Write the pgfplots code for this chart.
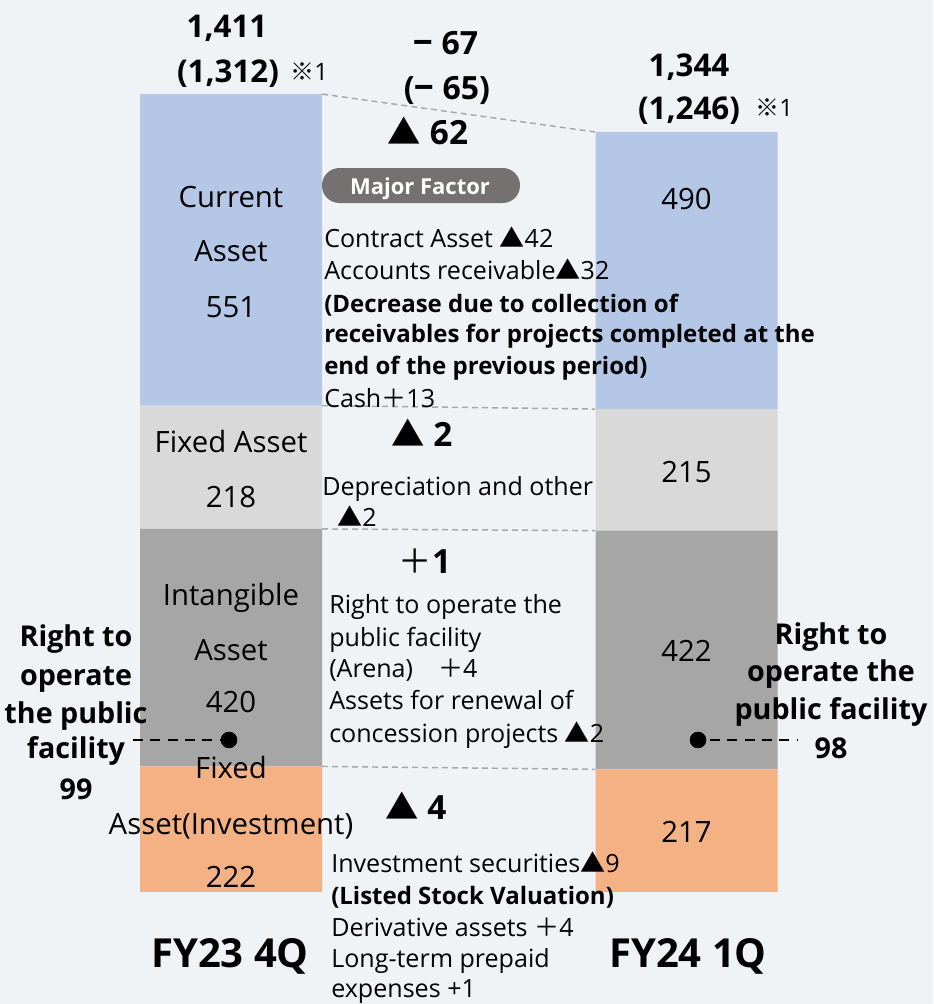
\documentclass[border=0pt]{standalone}
\usepackage{pgfplots}
\pgfplotsset{compat=1.18}
\usepackage{fontspec}
\setmainfont{Open Sans}
\newfontfamily\jp{Noto Sans CJK JP}
\definecolor{bg}{HTML}{EFF3F5}
\definecolor{cur}{HTML}{B4C7E7}
\definecolor{fix}{HTML}{D9D9D9}
\definecolor{intg}{HTML}{A6A6A6}
\definecolor{inv}{HTML}{F4B183}
\definecolor{pill}{HTML}{767171}
\definecolor{conn}{HTML}{A8A8A8}
\newcommand\Y[1]{{(892-#1)/0.5655}}
\newcommand\fs[1]{\fontsize{#1}{#1}\selectfont}
\newcommand\tri{{\jp ▲}}
\newcommand\pl{{\jp ＋}}
\pgfplotsset{base/.style={width=699.75pt, height=753pt, scale only axis,
  xmin=0, xmax=933, ymin=-198.06, ymax=1577.37, hide axis, clip=false,
  at={(0,0)}, anchor=south west}}
\begin{document}
\begin{tikzpicture}
\path[use as bounding box, fill=bg] (0,0) rectangle (699.75pt,753pt);
\begin{axis}[base, ybar stacked, bar width=182, bar shift=0pt]
\addplot[fill=inv, draw=none] coordinates {(231,222) (686.5,217)};
\addplot[fill=intg, draw=none] coordinates {(231,420) (686.5,422)};
\addplot[fill=fix, draw=none] coordinates {(231,218) (686.5,215)};
\addplot[fill=cur, draw=none] coordinates {(231,551) (686.5,490)};
\end{axis}
\begin{axis}[base]
% connectors
\addplot[conn, line width=1.1pt, dash pattern=on 4.5pt off 3pt] coordinates {(322,1411) (595,1344)};
\addplot[conn, line width=1.1pt, dash pattern=on 4.5pt off 3pt] coordinates {(322,860) (595,854)};
\addplot[conn, line width=1.1pt, dash pattern=on 4.5pt off 3pt] coordinates {(322,642) (595,639)};
\addplot[conn, line width=1.1pt, dash pattern=on 4.5pt off 3pt] coordinates {(322,222) (595,217)};
% right to operate markers
\addplot[black, line width=1.6pt, dash pattern=on 7.5pt off 5.5pt] coordinates {(133,268.8) (221,268.8)};
\addplot[black, line width=1.6pt, dash pattern=on 7.5pt off 5.5pt] coordinates {(710,268.8) (797,268.8)};
\addplot[black, only marks, mark=*, mark size=6pt] coordinates {(229,268.8) (698,268.8)};
% pill
\fill[pill, rounded corners=13pt] (axis cs:322,\Y{168}) rectangle (axis cs:520,\Y{203});
\node[anchor=base, inner sep=0pt, text=white, font=\fs{16.5}\bfseries] at (axis cs:420,\Y{195}) {Major Factor};
\begin{scope}[every node/.style={inner sep=0pt}]
% totals
\node[anchor=base, font=\fs{23.5}\bfseries] at (axis cs:227,\Y{38}) {1,411};
\node[anchor=base, font=\fs{23.5}\bfseries] at (axis cs:228,\Y{83}) {(1,312)};
\node[anchor=base west, font=\fs{18}] at (axis cs:290,\Y{81}) {{\jp ※}1};
\node[anchor=base, font=\fs{23.5}\bfseries] at (axis cs:689,\Y{77}) {1,344};
\node[anchor=base, font=\fs{23.5}\bfseries] at (axis cs:689,\Y{120}) {(1,246)};
\node[anchor=base west, font=\fs{18}] at (axis cs:755,\Y{117}) {{\jp ※}1};
% deltas
\node[anchor=base, font=\fs{24}\bfseries] at (axis cs:446,\Y{55}) {{\jp\bfseries −} 67};
\node[anchor=base, font=\fs{24}\bfseries] at (axis cs:447,\Y{100}) {({\jp\bfseries −} 65)};
\node[anchor=base, font=\fs{25}\bfseries] at (axis cs:428,\Y{145}) {\tri{} 62};
\node[anchor=base, font=\fs{25}\bfseries] at (axis cs:422,\Y{447}) {\tri{} 2};
\node[anchor=base, font=\fs{25}\bfseries] at (axis cs:425,\Y{574}) {{\jp\mdseries ＋}1};
\node[anchor=base, font=\fs{25}\bfseries] at (axis cs:416,\Y{820}) {\tri{} 4};
% bar labels
\begin{scope}[every node/.append style={anchor=base, font=\fs{22}}]
\node at (axis cs:231,\Y{208}) {Current};
\node at (axis cs:231,\Y{262}) {Asset};
\node at (axis cs:231,\Y{318}) {551};
\node at (axis cs:231,\Y{453}) {Fixed Asset};
\node at (axis cs:231,\Y{508}) {218};
\node at (axis cs:231,\Y{605}) {Intangible};
\node at (axis cs:231,\Y{660}) {Asset};
\node at (axis cs:231,\Y{713}) {420};
\node at (axis cs:231,\Y{778}) {Fixed};
\node at (axis cs:231,\Y{835}) {Asset(Investment)};
\node at (axis cs:231,\Y{888}) {222};
\node at (axis cs:686.5,\Y{210}) {490};
\node at (axis cs:686.5,\Y{483}) {215};
\node at (axis cs:686.5,\Y{662}) {422};
\node at (axis cs:686.5,\Y{843}) {217};
\end{scope}
% body text
\begin{scope}[every node/.append style={anchor=base west, font=\fs{18.8}}]
\node at (axis cs:324,\Y{248}) {Contract Asset \tri42};
\node at (axis cs:324,\Y{280}) {Accounts receivable\tri32};
\node[font=\fs{18}\bfseries] at (axis cs:324,\Y{312}) {(Decrease due to collection of};
\node[font=\fs{18}\bfseries] at (axis cs:324,\Y{343}) {receivables for projects completed at the};
\node[font=\fs{18}\bfseries] at (axis cs:324,\Y{375}) {end of the previous period)};
\node at (axis cs:324,\Y{408}) {Cash\pl13};
\node at (axis cs:322,\Y{496}) {Depreciation and other};
\node at (axis cs:337,\Y{527}) {\tri2};
\node at (axis cs:329,\Y{614}) {Right to operate the};
\node at (axis cs:329,\Y{647}) {public facility};
\node at (axis cs:329,\Y{678}) {(Arena)\quad\pl4};
\node at (axis cs:329,\Y{710}) {Assets for renewal of};
\node at (axis cs:329,\Y{742}) {concession projects \tri2};
\node at (axis cs:331,\Y{873}) {Investment securities\tri9};
\node[font=\fs{18}\bfseries] at (axis cs:331,\Y{905}) {(Listed Stock Valuation)};
\node at (axis cs:331,\Y{937}) {Derivative assets \pl4};
\node at (axis cs:331,\Y{968}) {Long-term prepaid};
\node at (axis cs:331,\Y{998}) {expenses +1};
\end{scope}
% side labels
\begin{scope}[every node/.append style={anchor=base, font=\fs{21.5}\bfseries}]
\node at (axis cs:76,\Y{647}) {Right to};
\node at (axis cs:76,\Y{685}) {operate};
\node at (axis cs:76,\Y{723}) {the public};
\node at (axis cs:76,\Y{758}) {facility};
\node at (axis cs:76,\Y{800}) {99};
\node at (axis cs:831,\Y{645}) {Right to};
\node at (axis cs:831,\Y{682}) {operate the};
\node at (axis cs:831,\Y{720}) {public facility};
\node at (axis cs:831,\Y{758}) {98};
\end{scope}
% period labels
\node[anchor=base, font=\fs{30}\bfseries] at (axis cs:230,\Y{968}) {FY23 4Q};
\node[anchor=base, font=\fs{30}\bfseries] at (axis cs:688,\Y{968}) {FY24 1Q};
\end{scope}
\end{axis}
\end{tikzpicture}
\end{document}
